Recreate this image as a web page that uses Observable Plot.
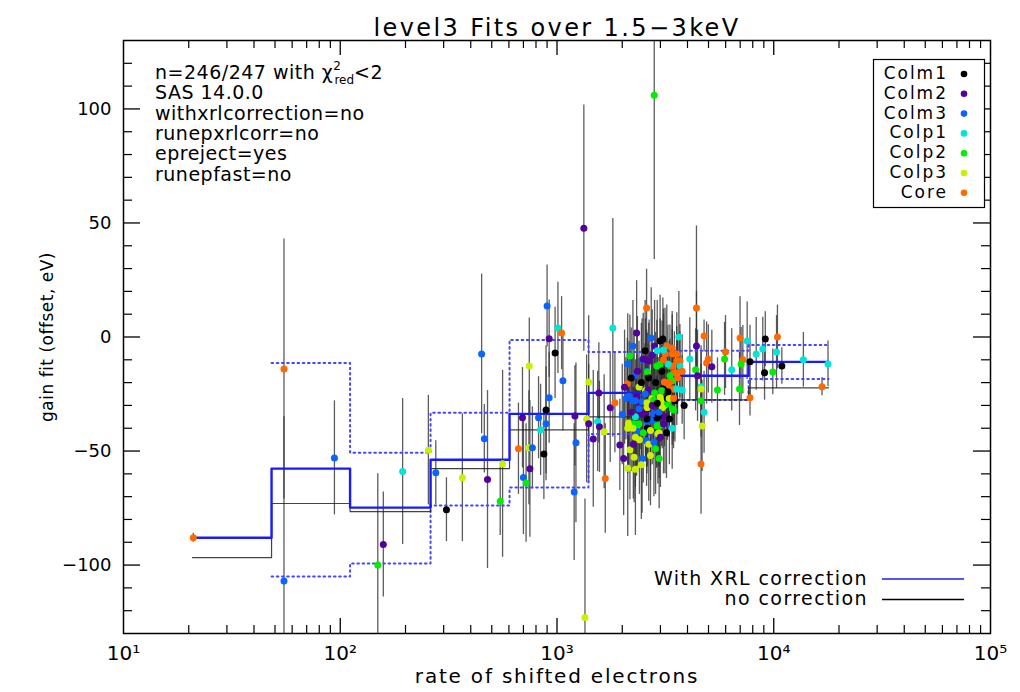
<!DOCTYPE html>
<html><head><meta charset="utf-8">
<script src="https://cdn.jsdelivr.net/npm/d3@7"></script>
<script src="https://cdn.jsdelivr.net/npm/@observablehq/plot@0.6"></script>
<style>
html,body{margin:0;padding:0;background:#fff;}
#chart{position:relative;width:1020px;height:692px;}
svg text{font-family:"DejaVu Sans",sans-serif;}
</style></head><body><div id="chart"></div>
<script>
// ---- categories ----
const ccdNames = ["Colm1","Colm2","Colm3","Colp1","Colp2","Colp3","Core"];
const ccdColors = ["#000000","#52009e","#0a64ff","#00e5d5","#00ee00","#c8f000","#ff6a00"];

// ---- per-fit values (rate of shifted electrons, gain offset eV, error eV, ccd index) ----
const rate = [21,55,55,94,194,158,149,255,276,309,366,449,462,478,561,547,664,693,822,742,770,750,700,720,870,890,840,890,1223,1200,1210,1346,1370,1400,1540,1470,1570,1650,1670,1760,1850,1950,2030,2120,2300,2270,2470,2590,2960,2170,2120,4620,4670,4770,3860,900,1010,1050,920,980,745,1065,920,1400,1560,1810,2110,2080,2140,2270,2590,2240,2120,2170,2330,2270,2560,2820,2720,2990,3080,2890,2590,2610,3650,3210,3400,3570,3690,3690,3480,3780,3320,3150,3100,3130,3480,3780,3210,3400,3040,2990,2740,2560,2820,3090,3040,2880,2890,2920,2890,2450,2560,2610,2330,2420,2390,2470,2240,2590,2330,2330,2350,2610,2600,4770,4400,4100,4900,4990,5180,4620,2990,2470,2500,2660,2390,2630,2300,2610,2990,3130,2790,3040,2700,2790,2930,2960,2960,2560,2300,2140,2240,2390,3190,3420,3570,3450,3230,3230,3060,3290,3400,3590,3570,3400,3320,3400,3250,4400,6990,7540,9140,10400,5990,8900,8300,10300,5930,7200,7070,7770,13700,17800,4360,6400,10900,9070,9900,4450,4620,4620,5500,6950,7770,16700,2810,1330,
  2050,2200,2350,2450,2550,2650,2750,2850,2950,3050,3150,3250,2400,2500,2650,2800,3000,2200,2300,2600,2700,2900,3100,3300,3500,2150,2550,2750,2900,3100,3300,3450,3600,2000,2250,2700,2450,2850,3200,3400];
const gain = [-88,-14,-107,-53,-59,-91,-100,-49.6,-59.5,-75.7,-61.7,-7.4,-44.6,-62.5,-55.6,-72,-49,-35.4,-35.4,-48.6,-48.6,-57.8,-61.6,-64,-51.3,-38,-40.7,-32,-46.4,-68,-34.6,-123,-35.9,-38,-37,-44.7,-39.4,-41.5,-62,-31,-28.8,-47.3,-53.3,-57.5,-58,-52.7,-53.3,-45.5,-53.3,-49.4,-40,-55.7,-39,-33,-30,13.6,4,1.7,-0.8,-7,-12.7,-19.2,-26.6,-19.7,-24.5,4,-20.5,-27,-37.7,-38,12.7,-4,-11.8,-8.3,1.7,-17,-10,-4,-0.4,-1.7,-0.9,-12.7,-15,-15.3,0,-4,-4.8,-7.4,-10.5,-12.7,-15.7,-15,-12.7,-7.4,-5.7,-19.7,-22.8,-23.2,-22,-31.5,-28,-26.2,-27,-23.6,-24.5,-22.8,-23.6,-37.6,-39,-42.4,-35.4,-33.7,-32.8,-31.5,-26.2,-29.3,-31.5,-28.4,-28,-37,-39.4,-41,-38.5,-40,-28.8,0.4,-4,-9.6,-11.4,-9.6,-13,-28,-12,-10,-9.6,-10.5,-21.9,-23.2,-28,-31,-28.4,-30,-27.6,-23.6,-36.5,-33.7,-34.6,-38.9,-42,-34.1,-35,-38.5,-40,-38,-20,-22.8,-22.8,-32,-29.3,-27,-31,-27,-12.7,-15.7,-10.5,-7.4,-17,-19.2,-11.8,12.7,-0.4,-1.7,-0.9,0,-6.6,-5.3,-7.4,-6.6,-9.6,-10,-11.8,-10.9,-10,-11.8,-14.4,-14.4,-12.7,-15.7,-15.3,-17,-21.8,-22.8,-23.2,-22.8,-26.6,-21.8,106,47.7,
  -22,-18,-15,-20,-25,-18,-30,-20,-33,-15,-35,-24,-45,-42,-47,-46,-44,-33,-44,-36,-41,-29,-38,-36,-28,-26,-6,-8,-6,-10,-20,-27,-18,-34,-47,-52,-56,-49,-42,-40];
const gainErr = [2,57,72,25,32,23,40,24,14,14,28,35,15,39,41,15,20,22,18,25,18,30,25,26,20,25,20,28,35,30,22,52,28,26,22,30,20,25,24,24,22,20,25,30,29,20,24,20,22,22,20,22,20,18,15,18,20,16,17,20,21,22,20,29,22,48,20,18,18,16,17,20,22,18,23,20,18,20,22,20,18,20,18,17,20,18,16,18,16,15,18,16,18,20,18,17,18,15,18,16,20,18,19,20,18,17,20,20,18,22,18,20,22,18,18,20,22,18,20,20,18,20,18,17,16,7,24,18,18,15,16,16,20,18,20,18,20,20,18,17,18,18,18,16,20,20,20,18,20,18,18,18,18,18,18,16,16,17,16,17,18,17,16,17,15,17,16,16,17,36,18,17,12,14,16,14,16,16,16,15,16,16,12,10,18,18,8,12,10,20,18,16,14,16,8,4,72,54,
  25,22,24,26,22,24,26,22,24,22,25,20,24,22,25,24,22,26,22,24,22,20,22,20,18,24,22,20,22,20,18,18,16,22,24,22,24,20,20,18];
const ccdIdx = [6,6,2,2,3,1,4,5,2,0,5,2,2,1,5,4,6,1,2,5,2,1,2,4,0,2,3,0,2,2,1,5,5,1,3,1,1,5,6,1,6,1,1,5,5,5,2,2,4,5,5,6,5,3,0,2,3,6,1,0,5,2,2,5,1,3,6,2,5,4,6,2,2,4,1,2,1,1,2,0,0,4,2,4,3,6,6,6,6,3,6,6,4,6,3,6,6,3,6,4,5,5,5,5,4,0,2,2,4,5,0,1,1,0,1,1,2,2,2,2,5,2,4,0,5,6,1,3,6,6,1,4,4,2,1,1,5,1,2,5,5,5,4,4,2,2,0,4,5,1,3,5,5,4,6,6,3,4,4,0,5,5,6,6,6,6,4,4,3,6,6,3,0,6,6,3,3,3,4,6,4,0,3,3,4,3,0,0,4,1,3,5,4,4,6,6,4,1,
  1,0,1,0,2,0,1,0,2,0,1,0,5,4,5,2,1,1,5,0,5,0,1,0,0,2,0,1,3,6,6,6,6,2,1,5,5,4,0,3];

// ---- binned fits (bin edges in rate, value per bin) ----
const binEdges = [20.8, 48.2, 111, 261, 604, 1397, 3265, 7654, 17900];
const fitXrl    = [-88, -57.7, -74.8, -53.8, -33.7, -24.5, -17, -10.9];
const fitNoCorr = [-96.7, -73, -76.6, -57.7, -40.7, -35, -27.6, -22.3];
const xrlUpper  = [null, -11.4, -50.7, -33.2, -1.3, -6.6, -6, -3.5];
const xrlLower  = [null, -105, -99.3, -73.9, -66, -42.5, -27.6, -18.4];

// ---- ticks and labels ----
const yLabelTicks = [-100, -50, 0, 50, 100];
const yMinorTicks = [-120,-110,-90,-80,-70,-60,-40,-30,-20,-10,10,20,30,40,60,70,80,90,110,120];
const xLabelTicks = [10, 100, 1000, 10000, 100000];
const xLabelText = ["10¹","10²","10³","10⁴","10⁵"];
const xMajorTicks = [100, 1000, 10000];
const xMinorTicks = [10,100,1000,10000].flatMap(d => [2,3,4,5,6,7,8,9].map(k => k*d));

const titleText = "level3 Fits over 1.5−3keV";
const xTitle = "rate of shifted electrons";
const yTitle = "gain fit (offset, eV)";
const infoLines = ["SAS 14.0.0","withxrlcorrection=no","runepxrlcorr=no","epreject=yes","runepfast=no"];
const lineLegend = ["With XRL correction","no correction"];

// ---- build tables ----
const points = rate.map((r,i) => ({rate:r, gain:gain[i], err:gainErr[i], ccd:ccdNames[ccdIdx[i]]}));
const stepRows = vals => binEdges.map((e,i) => ({x:e, y: vals[Math.min(i, vals.length-1)]}));

const W = 1020, H = 692, mL = 123, mR = 30, mT = 40, mB = 59;
const iW = W - mL - mR, iH = H - mT - mB;

const chart = Plot.plot({
  width: W, height: H,
  marginLeft: mL, marginRight: mR, marginTop: mT, marginBottom: mB,
  style: {fontFamily: "DejaVu Sans", background: "#fff", color: "#000"},
  x: {type: "log", domain: [10, 1e5]},
  y: {domain: [-130, 130]},
  color: {domain: ccdNames, range: ccdColors},
  marks: [
    Plot.ruleX(points, {x: "rate", y1: d => d.gain - d.err, y2: d => d.gain + d.err, stroke: "#333", strokeOpacity: 0.8, strokeWidth: 1.3, clip: true}),
    Plot.line(stepRows(xrlUpper), {x: "x", y: "y", curve: "step-after", stroke: "#4646ff", strokeWidth: 2, strokeDasharray: "1.6,3.6"}),
    Plot.line(stepRows(xrlLower), {x: "x", y: "y", curve: "step-after", stroke: "#4646ff", strokeWidth: 2, strokeDasharray: "1.6,3.6"}),
    Plot.line(stepRows(fitNoCorr), {x: "x", y: "y", curve: "step-after", stroke: "#222", strokeWidth: 1.2, strokeOpacity: 0.85}),
    Plot.line(stepRows(fitXrl), {x: "x", y: "y", curve: "step-after", stroke: "#1a1aff", strokeWidth: 2.4}),
    Plot.dot(points, {x: "rate", y: "gain", fill: "ccd", r: 3.5}),
    Plot.frame({stroke: "#000", strokeWidth: 1.5}),
    Plot.tickY(yLabelTicks, {y: d => d, insetRight: iW - 17, strokeWidth: 1.3}),
    Plot.tickY(yLabelTicks, {y: d => d, insetLeft: iW - 17, strokeWidth: 1.3}),
    Plot.tickY(yMinorTicks, {y: d => d, insetRight: iW - 9, strokeWidth: 1.2}),
    Plot.tickY(yMinorTicks, {y: d => d, insetLeft: iW - 9, strokeWidth: 1.2}),
    Plot.tickX(xMajorTicks, {x: d => d, insetTop: iH - 15, strokeWidth: 1.3}),
    Plot.tickX(xMajorTicks, {x: d => d, insetBottom: iH - 15, strokeWidth: 1.3}),
    Plot.tickX(xMinorTicks, {x: d => d, insetTop: iH - 8, strokeWidth: 1.2}),
    Plot.tickX(xMinorTicks, {x: d => d, insetBottom: iH - 8, strokeWidth: 1.2}),
    Plot.axisY({ticks: yLabelTicks, tickSize: 0, tickPadding: 12, fontSize: 18, label: null}),
    Plot.axisX({ticks: xLabelTicks, tickFormat: d => xLabelText[xLabelTicks.indexOf(d)], tickSize: 0, tickPadding: 12, fontSize: 20, label: null}),
    Plot.text([titleText], {text: d => d, frameAnchor: "top", dy: -22, fontSize: 24}),
    Plot.text([xTitle], {text: d => d, frameAnchor: "bottom", dy: 49, fontSize: 20}),
    Plot.text([yTitle], {text: d => d, frameAnchor: "left", textAnchor: "middle", dx: -76, rotate: -90, fontSize: 17})
  ]
});
document.getElementById("chart").appendChild(chart);

const svg = d3.select(chart);
const spacing = {[titleText]: 2.4, [xTitle]: 1.8, [yTitle]: 0.5};
svg.selectAll("text").each(function() {
  const s = spacing[this.textContent];
  if (s !== undefined) this.setAttribute("letter-spacing", s);
});

// info block
const info = svg.append("g").attr("font-size", 19).attr("letter-spacing", 0.5).attr("fill", "#000").attr("text-anchor", "start");
const t0 = info.append("text").attr("x", 155).attr("y", 72).attr("dy", "0.35em");
t0.append("tspan").text("n=246/247 with ");
t0.append("tspan").text("χ");
t0.append("tspan").attr("font-size", 12).attr("dy", -9).text("2");
t0.append("tspan").attr("font-size", 12).attr("dx", -7).attr("dy", 14).attr("letter-spacing", 0).text("red");
t0.append("tspan").attr("dy", -5).text("<2");
infoLines.forEach((s, i) => {
  info.append("text").attr("x", 155).attr("y", 92.5 + i * 20.4).attr("dy", "0.35em").text(s);
});

// ccd legend
const lg = svg.append("g").attr("font-size", 17).attr("fill", "#000");
lg.append("rect").attr("x", 873.5).attr("y", 59.5).attr("width", 111).attr("height", 148)
  .attr("fill", "#fff").attr("stroke", "#000").attr("stroke-width", 1.2);
ccdNames.forEach((n, i) => {
  lg.append("text").attr("x", 948).attr("y", 73 + i * 19.8).attr("dy", "0.35em")
    .attr("text-anchor", "end").attr("letter-spacing", 2).text(n);
  lg.append("circle").attr("cx", 964).attr("cy", 74 + i * 19.8).attr("r", 3.3).attr("fill", ccdColors[i]);
});

// line legend
const ll = svg.append("g").attr("font-size", 19).attr("letter-spacing", 1.4);
const llColors = ["#1a1aff", "#000"];
lineLegend.forEach((s, i) => {
  const y = 578 + i * 20.5;
  ll.append("text").attr("x", 868).attr("y", y).attr("dy", "0.35em").attr("text-anchor", "end").text(s);
  ll.append("line").attr("x1", 882).attr("x2", 964).attr("y1", y + 1).attr("y2", y + 1)
    .attr("stroke", llColors[i]).attr("stroke-width", 1.4);
});
</script></body></html>
